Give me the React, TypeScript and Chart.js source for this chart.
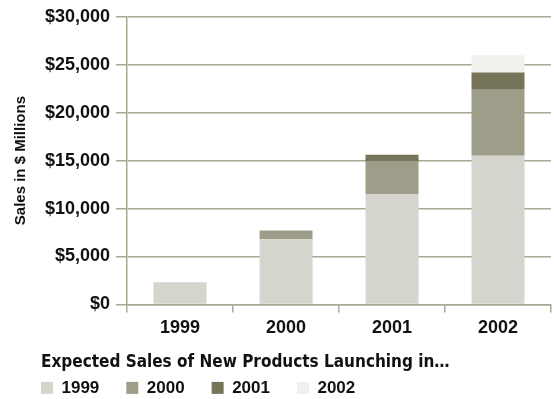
import React, { useEffect, useRef } from "react";
import { Chart, registerables } from "chart.js";

Chart.register(...registerables);

const categories = ["1999", "2000", "2001", "2002"];
const seriesNames = ["1999", "2000", "2001", "2002"];
const launch1999 = [2300, 6800, 11500, 15500];
const launch2000 = [null, 900, 3400, 6900];
const launch2001 = [null, null, 700, 1800];
const launch2002 = [null, null, null, 1800];
const yMin = 0;
const yMax = 30000;
const yStep = 5000;

const colors = ["#d5d5cd", "#9e9d8a", "#76755a", "#f0f0ec"];
const gridColor = "#a9a895";
const textColor = "#111111";
const sans = "'Liberation Sans', Arial, Helvetica, sans-serif";
const narrow = "'DejaVu Sans Condensed', 'Liberation Sans', sans-serif";

const legendShift = {
  id: "legendShift",
  afterLayout(chart: any) {
    const lg = chart.legend;
    if (!lg || !lg.lineWidths) return;
    const startX = 41;
    lg.lineWidths[0] = lg.right - startX;
  },
};

export default function App() {
  const ref = useRef<HTMLCanvasElement | null>(null);

  useEffect(() => {
    if (!ref.current) return;
    const series = [launch1999, launch2000, launch2001, launch2002];
    const chart = new Chart(ref.current, {
      type: "bar",
      data: {
        labels: categories,
        datasets: series.map((d, i) => ({
          label: seriesNames[i],
          data: d,
          backgroundColor: colors[i],
          borderWidth: 0,
          barPercentage: 0.5,
          categoryPercentage: 1.0,
        })),
      },
      plugins: [legendShift],
      options: {
        responsive: false,
        animation: false,
        layout: { padding: { top: 5, right: 3, bottom: 0, left: 0 } },
        plugins: {
          tooltip: { enabled: false },
          legend: {
            position: "bottom",
            align: "end",
            maxHeight: 55,
            labels: {
              boxWidth: 12,
              boxHeight: 12,
              padding: 27,
              color: textColor,
              font: { family: sans, size: 17, weight: "bold" },
            },
            title: {
              display: true,
              text: "Expected Sales of New Products Launching in…",
              position: "start",
              color: textColor,
              font: { family: narrow, size: 17, weight: "bold" },
              padding: { top: 10, bottom: -22 },
            },
          },
        },
        scales: {
          x: {
            stacked: true,
            grid: {
              display: true,
              drawOnChartArea: false,
              drawTicks: true,
              tickLength: 8,
              offset: true,
              color: gridColor,
              lineWidth: 1.5,
            },
            border: { display: true, color: gridColor, width: 1.5 },
            ticks: {
              color: textColor,
              padding: 5,
              font: { family: sans, size: 18, weight: "bold" },
            },
          },
          y: {
            stacked: true,
            min: yMin,
            max: yMax,
            grid: {
              color: gridColor,
              lineWidth: 1.5,
              tickLength: 11,
              drawTicks: true,
            },
            border: { display: true, color: gridColor, width: 1.5 },
            ticks: {
              stepSize: yStep,
              color: textColor,
              padding: 6,
              font: { family: sans, size: 18, weight: "bold" },
              callback: (v: any) => "$" + Number(v).toLocaleString("en-US"),
            },
            title: {
              display: true,
              text: "Sales in $ Millions",
              color: textColor,
              font: { family: sans, size: 15, weight: "bold" },
              padding: { top: 12, bottom: 9 },
            },
          },
        },
      },
    });
    return () => chart.destroy();
  }, []);

  return (
    <div style={{ position: "fixed", left: 0, top: 0, width: 554, height: 399, background: "#fff" }}>
      <canvas ref={ref} width={554} height={399} style={{ display: "block" }} />
    </div>
  );
}
